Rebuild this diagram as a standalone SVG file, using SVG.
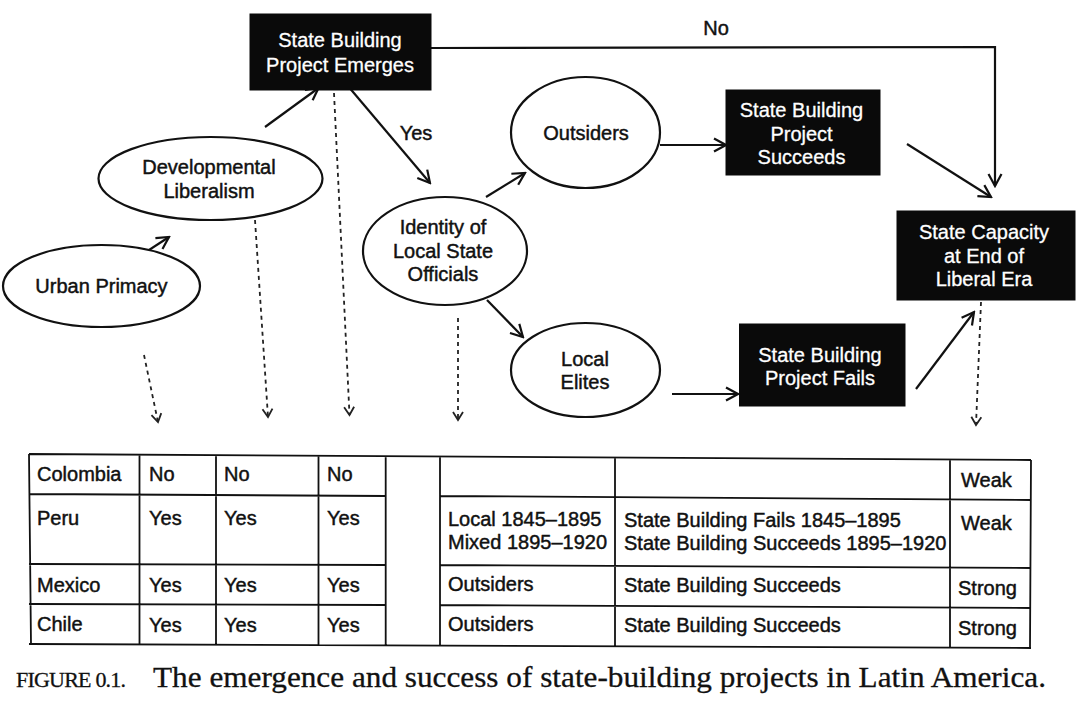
<svg xmlns="http://www.w3.org/2000/svg" width="1080" height="710" viewBox="0 0 1080 710">
<style>
  .lbl { font-family: "Liberation Sans", Arial, sans-serif; font-size: 20px; fill: #111; stroke: #111; stroke-width: 0.45px; }
  .w { fill: #fff; stroke: #fff; stroke-width: 0.3px; text-anchor: middle; }
  .c { text-anchor: middle; }
  .ell { fill: #fff; stroke: #111; stroke-width: 2.2; }
  .box { fill: #0a0a0a; stroke: #0a0a0a; stroke-width: 1; }
  .con { fill: none; stroke: #111; stroke-width: 2.2; marker-end: url(#arr); }
  .dash { fill: none; stroke: #222; stroke-width: 1.8; stroke-dasharray: 4 4; marker-end: url(#darr); }
  .tbl { fill: none; stroke: #111; stroke-width: 1.8; }
  .cap { font-family: "Liberation Serif", "Times New Roman", serif; fill: #111; stroke: #111; stroke-width: 0.3px; }
</style>
<defs>
  <marker id="arr" markerUnits="userSpaceOnUse" viewBox="-14 -8 16 16" markerWidth="16" markerHeight="16" refX="0" refY="0" orient="auto">
    <path d="M-12,-6.5 L0,0 L-12,6.5" fill="none" stroke="#111" stroke-width="2.2"/>
  </marker>
  <marker id="darr" markerUnits="userSpaceOnUse" viewBox="-10 -7 12 14" markerWidth="12" markerHeight="14" refX="0" refY="0" orient="auto">
    <path d="M-8,-5 L0,0 L-8,5" fill="none" stroke="#222" stroke-width="1.8"/>
  </marker>
</defs>
<rect width="1080" height="710" fill="#fff"/>

<g id="connectors">
  <line class="con" x1="129" y1="263" x2="169" y2="237"/>
  <line class="con" x1="265" y1="127" x2="318.5" y2="88"/>
  <line class="con" x1="350.5" y1="89" x2="430" y2="183"/>
  <line class="con" x1="486" y1="197" x2="525" y2="173"/>
  <line class="con" x1="487" y1="300" x2="523" y2="337"/>
  <line class="con" x1="660" y1="145" x2="726" y2="145"/>
  <line class="con" x1="672" y1="394" x2="738" y2="394"/>
  <line class="con" x1="907" y1="144" x2="991" y2="197"/>
  <line class="con" x1="916" y1="389" x2="974" y2="312"/>
  <polyline class="con" points="431,48 995,47 995,186"/>
  <line class="dash" x1="144" y1="355" x2="158" y2="422"/>
  <line class="dash" x1="255" y1="220" x2="268" y2="417"/>
  <line class="dash" x1="334" y1="93" x2="349.5" y2="415"/>
  <line class="dash" x1="458" y1="318" x2="458" y2="420"/>
  <line class="dash" x1="981" y1="302" x2="976" y2="425"/>
  <text class="lbl c" x="716" y="35">No</text>
  <text class="lbl c" x="416" y="140">Yes</text>
</g>

<g id="node-emerges">
  <rect class="box" x="250" y="14" width="181" height="76"/>
  <text class="lbl w" x="340" y="47">State Building</text>
  <text class="lbl w" x="340" y="72">Project Emerges</text>
</g>
<g id="node-devlib">
  <ellipse class="ell" cx="210.5" cy="178.5" rx="112" ry="41.5"/>
  <text class="lbl c" x="209" y="174">Developmental</text>
  <text class="lbl c" x="209" y="198">Liberalism</text>
</g>
<g id="node-urban">
  <ellipse class="ell" cx="101.5" cy="286" rx="98.5" ry="41"/>
  <text class="lbl c" x="101.5" y="293">Urban Primacy</text>
</g>
<g id="node-identity">
  <ellipse class="ell" cx="445" cy="251" rx="82" ry="54"/>
  <text class="lbl c" x="443" y="234">Identity of</text>
  <text class="lbl c" x="443" y="258">Local State</text>
  <text class="lbl c" x="443" y="281">Officials</text>
</g>
<g id="node-outsiders">
  <ellipse class="ell" cx="585.5" cy="132.5" rx="74.5" ry="55.5"/>
  <text class="lbl c" x="586" y="140">Outsiders</text>
</g>
<g id="node-succeeds">
  <rect class="box" x="726" y="90" width="154" height="85"/>
  <text class="lbl w" x="801.5" y="117">State Building</text>
  <text class="lbl w" x="801.5" y="141">Project</text>
  <text class="lbl w" x="801.5" y="164">Succeeds</text>
</g>
<g id="node-capacity">
  <rect class="box" x="897" y="211" width="178" height="89"/>
  <text class="lbl w" x="984" y="239">State Capacity</text>
  <text class="lbl w" x="984" y="263">at End of</text>
  <text class="lbl w" x="984" y="286">Liberal Era</text>
</g>
<g id="node-elites">
  <ellipse class="ell" cx="585.5" cy="370" rx="74.5" ry="47"/>
  <text class="lbl c" x="585" y="366">Local</text>
  <text class="lbl c" x="585" y="389">Elites</text>
</g>
<g id="node-fails">
  <rect class="box" x="739.5" y="324" width="165.5" height="82"/>
  <text class="lbl w" x="820" y="362">State Building</text>
  <text class="lbl w" x="820" y="385">Project Fails</text>
</g>

<g id="table">
  <path class="tbl" d="M29,454 L1031,460 M29,644 L1031,648
    M29,494 L385.7,496 M440,496 L1031,500
    M29,564 L385.7,565 M440,565 L1031,568
    M29,604 L385.7,605 M440,605 L1031,608
    M29,454 L31,644 M139.5,455 L139.5,645 M216,455 L216,645 M318.5,456 L318.5,645
    M385.7,456 L385.7,646 M440,457 L440,646 M615,458 L615,647 M950,460 L950,648 M1031,460 L1030,648"/>
  <text class="lbl" x="37" y="481">Colombia</text>
  <text class="lbl" x="149" y="481">No</text>
  <text class="lbl" x="224" y="481">No</text>
  <text class="lbl" x="327" y="481">No</text>
  <text class="lbl" x="961" y="487">Weak</text>

  <text class="lbl" x="37" y="525">Peru</text>
  <text class="lbl" x="149" y="525">Yes</text>
  <text class="lbl" x="224" y="525">Yes</text>
  <text class="lbl" x="327" y="525">Yes</text>
  <text class="lbl" x="448" y="526">Local 1845–1895</text>
  <text class="lbl" x="448" y="549">Mixed 1895–1920</text>
  <text class="lbl" x="624" y="527">State Building Fails 1845–1895</text>
  <text class="lbl" x="624" y="550">State Building Succeeds 1895–1920</text>
  <text class="lbl" x="961" y="530">Weak</text>

  <text class="lbl" x="37" y="592">Mexico</text>
  <text class="lbl" x="149" y="592">Yes</text>
  <text class="lbl" x="224" y="592">Yes</text>
  <text class="lbl" x="327" y="592">Yes</text>
  <text class="lbl" x="448" y="591">Outsiders</text>
  <text class="lbl" x="624" y="592">State Building Succeeds</text>
  <text class="lbl" x="958" y="595">Strong</text>

  <text class="lbl" x="37" y="631">Chile</text>
  <text class="lbl" x="149" y="632">Yes</text>
  <text class="lbl" x="224" y="632">Yes</text>
  <text class="lbl" x="327" y="632">Yes</text>
  <text class="lbl" x="448" y="631">Outsiders</text>
  <text class="lbl" x="624" y="632">State Building Succeeds</text>
  <text class="lbl" x="958" y="635">Strong</text>
</g>

<g id="caption">
  <text class="cap" x="16" y="687" font-size="22" textLength="110" lengthAdjust="spacing">FIGURE 0.1.</text>
  <text class="cap" x="153" y="687" font-size="30" textLength="893" lengthAdjust="spacingAndGlyphs">The emergence and success of state-building projects in Latin America.</text>
</g>
</svg>
